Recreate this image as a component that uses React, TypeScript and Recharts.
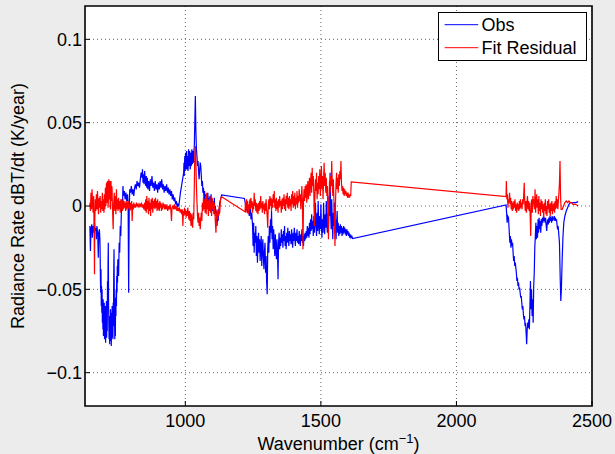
import React from "react";
import { LineChart, Line, XAxis, YAxis, CartesianGrid, ReferenceArea, Legend } from "recharts";

const FONT = "'Liberation Sans', Arial, Helvetica, sans-serif";

const seriesNames = ["Obs", "Fit Residual"];
const xTicks = [1000, 1500, 2000, 2500];
const yTicks = [-0.1, -0.05, 0, 0.05, 0.1];
const xDomain: [number, number] = [630, 2500];
const yDomain: [number, number] = [-0.12, 0.12];

// Obs: [wavenumber, dBT/dt]
const obsBand1: [number, number][] = [
  [648,-0.012],[650,-0.027],[652,-0.014],[655,-0.011],[657,-0.019],[660,-0.012],[662,-0.016],[665,-0.010],
  [667,-0.015],[670,-0.013],[672,-0.020],[674,-0.012],[677,-0.017],[679,-0.031],[681,-0.016],[683,-0.014],
  [685,-0.020],[686,-0.030],[687,-0.045],[688,-0.052],[689,-0.038],[690,-0.060],[691,-0.048],[692,-0.064],
  [693,-0.050],[694,-0.070],[695,-0.058],[696,-0.074],[697,-0.056],[698,-0.078],[699,-0.062],[700,-0.072],
  [701,-0.058],[702,-0.080],[703,-0.064],[704,-0.076],[705,-0.060],[706,-0.082],[707,-0.066],[708,-0.074],
  [709,-0.057],[710,-0.079],[711,-0.063],[712,-0.075],[713,-0.045],[714,-0.062],[715,-0.035],[716,-0.022],
  [717,-0.060],[718,-0.072],[719,-0.080],[720,-0.066],[721,-0.083],[722,-0.068],[723,-0.078],[724,-0.062],
  [725,-0.081],[726,-0.064],[727,-0.084],[728,-0.070],[729,-0.079],[730,-0.060],[731,-0.076],[732,-0.066],
  [733,-0.080],[734,-0.058],[735,-0.072],[736,-0.040],[737,-0.026],[738,-0.050],[739,-0.068],[740,-0.080],
  [741,-0.062],[742,-0.078],[743,-0.055],[744,-0.066],[745,-0.050],[746,-0.060],[747,-0.042],[748,-0.052],
  [749,-0.036],[750,-0.046],[751,-0.032],[752,-0.040],[754,-0.042],[756,-0.022],[758,-0.028],[760,-0.012],
  [762,-0.018],[764,-0.004],[766,0.004],[768,-0.002],[770,0.012],[772,0.006],[775,0.009],[778,0.004],
  [781,0.008],[784,0.003],[787,0.007],[789,0.002],[791,-0.052],[793,-0.005],[795,0.010],[798,0.008],
  [801,0.012],[804,0.007],[807,0.010],[810,0.006],[813,0.011],[816,0.013],[819,0.010],[822,0.015],
  [825,0.012],[828,0.014],[831,0.011],[834,0.016],[837,0.020],[840,0.017],[842,0.022],[844,0.014],
  [846,0.019],[848,0.013],[850,0.021],[852,0.016],[854,0.012],[856,0.018],[858,0.011],[860,0.017],
  [862,0.010],[865,0.015],[868,0.009],[871,0.016],[874,0.012],[877,0.018],[880,0.011],[883,0.014],
  [886,0.009],[889,0.015],[892,0.010],[895,0.013],[898,0.008],[901,0.014],[904,0.010],[907,0.015],
  [910,0.011],[913,0.016],[916,0.010],[919,0.013],[922,0.008],[925,0.012],[928,0.009],[931,0.013],
  [934,0.008],[937,0.011],[940,0.007],[943,0.010],[946,0.006],[949,0.009],[952,0.004],[955,0.007],
  [958,0.003],[961,0.005],[964,0.001],[967,0.003],[970,-0.001],[973,0.001],[976,0.000],[979,0.004],
  [982,0.008],[985,0.011],[988,0.014],[991,0.017],[994,0.020],[995,0.026],[996,0.018],[997,0.024],
  [998,0.030],[999,0.021],[1000,0.027],[1001,0.032],[1002,0.022],[1003,0.024],[1004,0.031],[1005,0.033],
  [1006,0.023],[1007,0.022],[1008,0.030],[1009,0.029],[1010,0.021],[1011,0.025],[1012,0.034],[1013,0.030],
  [1014,0.024],[1015,0.027],[1016,0.033],[1017,0.031],[1018,0.022],[1019,0.023],[1020,0.032],[1021,0.030],
  [1022,0.024],[1023,0.026],[1024,0.034],[1025,0.033],[1026,0.025],[1027,0.028],[1028,0.033],[1029,0.031],
  [1030,0.026],[1031,0.027],[1032,0.034],[1033,0.035],[1034,0.042],[1035,0.050],[1037,0.066],[1039,0.045],
  [1041,0.034],[1043,0.030],[1045,0.024],[1047,0.027],[1049,0.020],[1051,0.016],[1053,0.022],[1055,0.026],
  [1057,0.024],[1059,0.018],[1061,0.012],[1063,0.015],[1065,0.008],[1067,0.011],[1069,0.004],[1071,0.009],
  [1073,0.002],[1075,0.007],[1077,0.000],[1079,0.006],[1081,0.002],[1083,0.008],[1085,0.001],[1087,0.005],
  [1089,-0.001],[1091,0.006],[1093,0.002],[1095,0.007],[1097,-0.002],[1099,0.004],[1101,-0.003],[1103,0.003],
  [1105,-0.001],[1107,0.005],[1109,-0.004],[1111,0.000],[1113,-0.006],[1115,-0.003],[1117,-0.012],[1119,-0.006],
  [1121,-0.009],[1123,-0.002],[1125,-0.005],[1127,0.002],[1130,0.004],[1134,0.0066],
];

const obsBand2: [number, number][] = [
  [1218,0.0045],[1221,0.002],[1224,-0.003],[1227,0.001],[1230,-0.004],[1233,0.000],[1236,-0.006],[1239,0.003],
  [1242,-0.008],[1245,-0.004],[1248,-0.012],[1250,-0.024],[1252,-0.010],[1254,-0.028],[1256,-0.016],[1258,-0.022],
  [1260,-0.012],[1262,-0.030],[1264,-0.018],[1266,-0.034],[1268,-0.022],[1270,-0.016],[1272,-0.028],[1274,-0.020],
  [1276,-0.033],[1278,-0.024],[1280,-0.018],[1282,-0.036],[1284,-0.026],[1286,-0.020],[1288,-0.031],[1290,-0.038],
  [1292,-0.027],[1294,-0.022],[1296,-0.040],[1298,-0.030],[1300,-0.046],[1302,-0.053],[1304,-0.026],[1306,-0.018],
  [1308,-0.028],[1310,-0.012],[1312,-0.022],[1314,-0.008],[1316,-0.016],[1318,-0.003],[1320,-0.020],[1322,-0.012],
  [1324,-0.026],[1326,-0.014],[1328,-0.022],[1330,-0.030],[1332,-0.017],[1334,-0.026],[1336,-0.032],[1338,-0.020],
  [1340,-0.028],[1342,-0.044],[1344,-0.022],[1346,-0.016],[1348,-0.026],[1350,-0.019],[1352,-0.024],[1354,-0.014],
  [1356,-0.022],[1358,-0.017],[1360,-0.025],[1362,-0.015],[1364,-0.021],[1366,-0.012],[1368,-0.024],[1370,-0.018],
  [1372,-0.026],[1374,-0.016],[1376,-0.022],[1378,-0.013],[1380,-0.020],[1382,-0.024],[1384,-0.015],[1386,-0.021],
  [1388,-0.017],[1390,-0.023],[1392,-0.014],[1394,-0.020],[1396,-0.025],[1398,-0.016],[1400,-0.021],[1402,-0.013],
  [1404,-0.019],[1406,-0.024],[1408,-0.016],[1410,-0.021],[1412,-0.014],[1414,-0.022],[1416,-0.018],[1418,-0.023],
  [1420,-0.015],[1422,-0.020],[1424,-0.024],[1426,-0.017],[1428,-0.021],[1430,-0.014],[1432,-0.022],[1434,-0.018],
  [1436,-0.024],[1438,-0.017],[1440,-0.021],[1442,-0.016],[1444,-0.020],[1446,-0.015],[1448,-0.019],[1450,-0.012],
  [1452,-0.018],[1454,-0.013],[1456,-0.019],[1458,-0.010],[1460,-0.017],[1462,-0.008],[1464,-0.015],[1466,-0.005],
  [1468,-0.014],[1470,-0.009],[1472,-0.018],[1474,-0.006],[1476,-0.016],[1478,-0.010],[1480,0.002],[1482,-0.012],
  [1484,-0.018],[1486,-0.004],[1488,-0.015],[1490,0.003],[1492,-0.010],[1494,-0.017],[1496,-0.006],[1498,-0.014],
  [1500,0.001],[1502,-0.012],[1504,-0.019],[1506,-0.008],[1508,-0.016],[1510,0.002],[1512,-0.010],[1514,-0.017],
  [1516,-0.005],[1518,-0.013],[1520,0.003],[1522,-0.011],[1524,-0.016],[1526,-0.004],[1528,-0.012],[1530,0.006],
  [1532,-0.006],[1534,0.020],[1536,-0.004],[1538,-0.014],[1540,0.004],[1542,-0.010],[1544,-0.020],[1546,-0.004],
  [1548,-0.012],[1550,0.002],[1552,-0.016],[1554,-0.008],[1556,-0.020],[1558,-0.010],[1560,-0.003],[1562,-0.016],
  [1564,-0.010],[1566,-0.018],[1568,-0.012],[1570,-0.017],[1572,-0.011],[1574,-0.016],[1576,-0.012],[1578,-0.018],
  [1580,-0.013],[1582,-0.017],[1584,-0.012],[1586,-0.016],[1588,-0.013],[1590,-0.017],[1592,-0.014],[1594,-0.018],
  [1596,-0.014],[1598,-0.017],[1600,-0.015],[1602,-0.018],[1604,-0.016],[1606,-0.019],[1608,-0.017],[1611,-0.019],
  [1614,-0.018],[1617,-0.0195],
];

const obsBand3: [number, number][] = [
  [2183,0.0006],[2185,-0.004],[2187,-0.010],[2189,-0.006],[2192,-0.007],[2195,-0.016],[2197,-0.022],[2199,-0.018],
  [2201,-0.025],[2203,-0.020],[2205,-0.024],[2207,-0.022],[2209,-0.028],[2211,-0.033],[2213,-0.030],[2215,-0.036],
  [2217,-0.034],[2219,-0.037],[2221,-0.040],[2223,-0.045],[2225,-0.043],[2227,-0.048],[2229,-0.046],[2231,-0.050],
  [2233,-0.049],[2235,-0.052],[2237,-0.055],[2239,-0.054],[2241,-0.058],[2243,-0.062],[2245,-0.060],[2247,-0.065],
  [2249,-0.068],[2251,-0.066],[2253,-0.072],[2255,-0.070],[2257,-0.076],[2259,-0.083],[2261,-0.074],[2263,-0.070],
  [2265,-0.073],[2267,-0.068],[2269,-0.074],[2271,-0.060],[2273,-0.045],[2275,-0.062],[2277,-0.050],[2279,-0.066],
  [2281,-0.056],[2283,-0.070],[2285,-0.048],[2287,-0.040],[2289,-0.025],[2291,-0.018],[2293,-0.010],[2295,-0.020],
  [2297,-0.012],[2299,-0.019],[2301,-0.008],[2303,-0.016],[2305,-0.007],[2307,-0.014],[2309,-0.009],[2311,-0.016],
  [2313,-0.008],[2315,-0.012],[2317,-0.007],[2319,-0.010],[2321,-0.006],[2323,-0.009],[2325,-0.007],[2327,-0.010],
  [2329,-0.007],[2331,-0.012],[2333,-0.015],[2335,-0.010],[2337,-0.008],[2339,-0.011],[2341,-0.007],[2343,-0.010],
  [2345,-0.006],[2347,-0.009],[2349,-0.007],[2351,-0.010],[2353,-0.006],[2355,-0.009],[2357,-0.007],[2359,-0.008],
  [2361,-0.006],[2363,-0.009],[2365,-0.007],[2367,-0.009],[2369,-0.008],[2371,-0.011],[2373,-0.014],[2375,-0.012],
  [2377,-0.016],[2380,-0.022],[2383,-0.045],[2385,-0.057],[2387,-0.050],[2390,-0.032],[2393,-0.018],[2396,-0.010],
  [2400,-0.006],[2405,-0.003],[2410,-0.001],[2415,0.001],[2420,0.002],[2430,0.002],[2440,0.002],[2449,0.0026],
];

// Fit Residual: [wavenumber, dBT/dt]
const resBand1: [number, number][] = [
  [648,0.002],[650,-0.003],[652,0.008],[654,-0.002],[656,0.010],[658,0.001],[660,-0.004],[662,0.006],
  [664,-0.020],[665,-0.041],[666,-0.010],[668,0.004],[670,-0.003],[672,0.007],[674,-0.002],[676,0.009],
  [678,0.000],[680,-0.005],[682,0.005],[684,-0.001],[686,0.006],[688,-0.004],[690,0.003],[692,-0.002],
  [694,0.008],[696,-0.003],[698,0.004],[700,-0.004],[701,0.006],[702,0.007],[703,-0.002],[704,0.001],
  [705,0.010],[706,0.011],[707,0.000],[708,0.003],[709,0.013],[710,0.014],[711,0.002],[712,0.005],
  [713,0.015],[714,0.012],[715,-0.001],[716,0.002],[717,0.012],[718,0.016],[719,0.004],[720,0.006],
  [721,0.015],[722,0.013],[723,0.001],[724,-0.002],[725,0.011],[726,0.015],[727,0.003],[728,0.004],
  [729,0.012],[730,0.009],[731,0.000],[732,-0.004],[733,-0.010],[734,-0.014],[735,-0.002],[736,0.002],
  [738,0.008],[740,-0.003],[742,0.006],[744,-0.005],[746,0.010],[748,-0.002],[750,0.004],[752,-0.003],
  [754,0.005],[756,-0.002],[758,0.003],[760,-0.004],[762,0.004],[764,-0.002],[766,0.003],[768,-0.003],
  [770,0.004],[772,-0.002],[774,0.003],[776,-0.001],[778,0.002],[780,-0.003],[782,0.003],[784,-0.002],
  [786,0.002],[788,-0.001],[790,0.003],[792,-0.002],[794,0.001],[796,-0.003],[798,0.002],[800,-0.002],
  [802,0.003],[804,-0.009],[806,0.001],[808,-0.002],[810,0.002],[812,-0.001],[814,0.001],[817,-0.001],
  [820,0.002],[823,0.000],[826,0.001],[829,-0.001],[832,0.001],[835,0.000],[838,0.002],[841,-0.001],
  [844,0.001],[847,-0.002],[850,0.002],[852,-0.003],[854,0.004],[856,-0.004],[858,0.006],[860,-0.002],
  [862,0.003],[864,-0.005],[866,0.005],[868,-0.003],[870,0.002],[872,-0.006],[874,0.004],[876,-0.002],
  [878,0.005],[880,-0.004],[882,0.003],[884,-0.001],[886,0.004],[888,-0.002],[890,0.005],[892,-0.001],
  [894,0.003],[896,-0.003],[898,0.004],[900,-0.002],[902,0.002],[904,-0.003],[906,0.003],[908,-0.001],
  [910,0.002],[912,-0.003],[914,0.001],[916,-0.002],[918,0.002],[920,-0.001],[922,0.001],[924,-0.002],
  [926,0.001],[929,-0.002],[932,0.001],[935,-0.003],[938,0.000],[941,-0.002],[944,0.001],[947,-0.003],
  [949,-0.009],[951,-0.001],[954,0.000],[957,-0.002],[960,0.001],[963,-0.002],[966,0.000],[969,-0.003],
  [972,-0.001],[975,-0.003],[978,-0.001],[981,-0.004],[984,-0.002],[987,-0.005],[989,-0.002],[991,-0.012],
  [993,-0.003],[995,-0.006],[997,-0.001],[999,-0.005],[1001,-0.002],[1003,-0.007],[1005,-0.003],[1007,-0.006],
  [1009,-0.001],[1011,-0.004],[1013,-0.008],[1015,-0.003],[1017,-0.009],[1019,-0.004],[1021,-0.012],[1023,-0.005],
  [1025,-0.010],[1027,-0.013],[1029,-0.004],[1031,-0.008],[1033,0.010],[1035,0.030],[1037,0.036],[1039,0.026],
  [1041,0.012],[1043,0.002],[1045,-0.006],[1047,-0.010],[1049,-0.004],[1051,-0.012],[1053,-0.007],[1055,-0.014],
  [1057,-0.008],[1059,-0.004],[1061,-0.009],[1063,0.002],[1065,-0.003],[1067,0.005],[1069,-0.002],[1071,0.004],
  [1073,-0.004],[1075,0.006],[1077,-0.005],[1079,0.008],[1081,-0.002],[1083,0.003],[1085,-0.006],[1087,0.004],
  [1089,-0.003],[1091,0.006],[1093,-0.004],[1095,0.002],[1097,-0.006],[1099,0.005],[1101,-0.002],[1103,0.003],
  [1105,-0.005],[1107,0.002],[1109,-0.004],[1111,-0.010],[1113,-0.016],[1115,-0.006],[1117,-0.002],[1119,-0.008],
  [1121,-0.003],[1123,-0.006],[1125,0.000],[1127,-0.004],[1129,0.002],[1131,0.005],[1134,0.0055],
];

const resBand2: [number, number][] = [
  [1220,-0.0034],[1222,0.002],[1224,-0.004],[1226,0.004],[1228,-0.002],[1230,0.003],[1232,-0.005],[1234,0.001],
  [1236,-0.003],[1238,0.004],[1240,-0.002],[1242,0.005],[1244,-0.001],[1246,0.003],[1248,-0.004],[1250,0.002],
  [1252,-0.002],[1254,0.008],[1256,0.000],[1258,0.004],[1260,-0.003],[1262,0.002],[1264,-0.004],[1266,0.001],
  [1268,-0.005],[1270,0.002],[1272,-0.003],[1274,0.003],[1276,-0.002],[1278,0.006],[1280,-0.001],[1282,0.002],
  [1284,-0.004],[1286,0.003],[1288,-0.002],[1290,0.001],[1292,-0.005],[1294,0.002],[1296,-0.003],[1298,0.004],
  [1300,-0.002],[1302,-0.006],[1304,-0.013],[1306,0.000],[1308,0.004],[1310,-0.002],[1312,0.006],[1314,0.000],
  [1316,0.005],[1318,-0.003],[1320,0.004],[1322,-0.001],[1324,0.007],[1326,0.002],[1328,0.009],[1330,-0.001],
  [1332,0.004],[1334,-0.003],[1336,0.005],[1338,-0.002],[1340,0.003],[1342,-0.004],[1344,0.004],[1346,-0.001],
  [1348,0.006],[1350,0.000],[1352,0.003],[1354,-0.004],[1356,0.004],[1358,-0.002],[1360,0.005],[1362,0.000],
  [1364,0.007],[1366,-0.002],[1368,0.004],[1370,-0.003],[1372,0.006],[1374,0.001],[1376,0.008],[1378,-0.001],
  [1380,0.005],[1382,-0.002],[1384,0.006],[1386,0.000],[1388,0.004],[1390,-0.003],[1392,0.007],[1394,0.001],
  [1396,0.009],[1398,-0.001],[1400,0.006],[1402,0.000],[1404,0.008],[1406,-0.002],[1408,0.005],[1410,0.001],
  [1412,0.009],[1414,-0.001],[1416,0.006],[1418,0.002],[1420,0.010],[1422,0.003],[1424,0.007],[1426,-0.002],
  [1428,0.005],[1430,0.012],[1432,0.001],[1434,-0.026],[1436,0.004],[1438,0.010],[1440,0.003],[1442,0.012],
  [1444,0.005],[1446,0.013],[1448,0.002],[1450,0.009],[1452,0.015],[1454,0.004],[1456,0.011],[1458,0.017],
  [1460,0.006],[1462,0.014],[1464,0.020],[1466,0.008],[1468,0.023],[1470,0.012],[1472,0.018],[1474,0.008],
  [1476,-0.012],[1478,0.006],[1480,0.016],[1482,0.009],[1484,0.020],[1486,0.004],[1488,0.014],[1490,0.007],
  [1492,0.018],[1494,0.010],[1496,0.022],[1498,0.006],[1500,0.015],[1502,0.024],[1504,0.010],[1506,0.018],
  [1508,0.004],[1510,0.016],[1512,0.026],[1514,0.012],[1516,0.020],[1518,0.008],[1520,0.017],[1522,0.006],
  [1524,0.012],[1526,-0.008],[1528,-0.020],[1530,0.004],[1532,0.015],[1534,0.008],[1536,0.018],[1538,0.012],
  [1540,0.027],[1542,0.014],[1544,0.006],[1546,0.016],[1548,0.004],[1550,-0.010],[1552,-0.024],[1554,0.002],
  [1556,0.014],[1558,0.020],[1560,0.010],[1562,0.017],[1564,0.008],[1566,0.019],[1568,0.012],[1570,0.021],
  [1572,0.016],[1574,0.027],[1576,0.014],[1578,0.009],[1580,0.012],[1582,0.007],[1584,0.011],[1586,0.006],
  [1588,0.010],[1590,0.007],[1592,0.009],[1594,0.006],[1596,0.008],[1598,0.005],[1600,0.008],[1602,0.005],
  [1604,0.007],[1606,0.005],[1608,0.007],[1610,0.006],[1612,0.0144],
];

const resBand3: [number, number][] = [
  [2183,0.0056],[2184,0.015],[2186,0.004],[2188,0.007],[2190,-0.001],[2192,0.004],[2194,0.002],[2196,0.008],
  [2198,0.001],[2200,0.005],[2202,-0.002],[2204,0.003],[2206,-0.003],[2208,0.002],[2210,-0.002],[2212,0.003],
  [2214,-0.001],[2216,0.004],[2218,-0.003],[2220,0.001],[2222,-0.004],[2224,0.002],[2226,-0.002],[2228,0.001],
  [2230,-0.003],[2232,0.003],[2234,-0.002],[2236,0.004],[2238,-0.001],[2240,0.002],[2242,-0.002],[2244,0.004],
  [2246,0.001],[2248,0.006],[2250,0.014],[2252,0.002],[2254,-0.003],[2256,0.003],[2258,-0.004],[2260,0.002],
  [2262,0.006],[2264,-0.002],[2266,0.003],[2268,-0.003],[2270,0.002],[2272,-0.006],[2274,-0.018],[2276,0.002],
  [2278,0.004],[2280,-0.004],[2282,0.006],[2284,0.001],[2286,0.004],[2288,-0.002],[2290,0.010],[2292,-0.004],
  [2294,0.003],[2296,0.007],[2298,-0.001],[2300,0.004],[2302,-0.005],[2304,0.006],[2306,-0.003],[2308,0.002],
  [2310,-0.006],[2312,0.004],[2314,-0.002],[2316,0.003],[2318,-0.004],[2320,0.001],[2322,-0.007],[2324,0.002],
  [2326,-0.003],[2328,0.004],[2330,-0.005],[2332,0.000],[2334,-0.006],[2336,0.003],[2338,-0.002],[2340,0.004],
  [2342,-0.004],[2344,0.001],[2346,-0.006],[2348,0.002],[2350,-0.003],[2352,0.003],[2354,-0.005],[2356,0.001],
  [2358,-0.003],[2360,0.002],[2362,-0.004],[2364,0.003],[2366,-0.002],[2368,0.006],[2370,-0.001],[2372,0.004],
  [2374,-0.002],[2376,0.003],[2378,0.008],[2380,0.014],[2382,0.027],[2384,0.006],[2386,-0.002],[2390,-0.002],
  [2395,0.000],[2400,0.002],[2405,0.003],[2410,0.002],[2415,0.003],[2420,0.002],[2425,0.002],[2430,0.001],
  [2440,0.001],[2449,0.000],
];

const toPoints = (bands: [number, number][][]) =>
  bands.flat().map(([x, y]) => ({ x, y }));

const obsData = toPoints([obsBand1, obsBand2, obsBand3]);
const resData = toPoints([resBand1, resBand2, resBand3]);

const fmtY = (v: number) => (v === 0 ? "0" : (v < 0 ? "\u2212" : "") + String(Math.abs(v)));

const BottomTick = (props: any) => {
  const { x, y, payload } = props;
  return (
    <g>
      <line x1={x} y1={y} x2={x} y2={y - 5} stroke="#000" strokeWidth={1} />
      <text x={x} y={y + 21} textAnchor="middle" fontSize={18} fontFamily={FONT} fill="#000">
        {payload.value}
      </text>
    </g>
  );
};

const TopTick = (props: any) => {
  const { x, y } = props;
  return <line x1={x} y1={y} x2={x} y2={y + 5} stroke="#000" strokeWidth={1} />;
};

const LeftTick = (props: any) => {
  const { x, y, payload } = props;
  return (
    <g>
      <line x1={x} y1={y} x2={x + 5} y2={y} stroke="#000" strokeWidth={1} />
      <text x={x - 3} y={y} dy="0.35em" textAnchor="end" fontSize={18} fontFamily={FONT} fill="#000">
        {fmtY(payload.value)}
      </text>
    </g>
  );
};

const RightTick = (props: any) => {
  const { x, y } = props;
  return <line x1={x} y1={y} x2={x - 5} y2={y} stroke="#000" strokeWidth={1} />;
};

const XLabel = (props: any) => {
  const vb = props.viewBox || {};
  return (
    <text x={vb.x + vb.width / 2} y={vb.y + 44} textAnchor="middle" fontSize={18} fontFamily={FONT} fill="#000">
      <tspan>Wavenumber (cm</tspan>
      <tspan dy={-7} fontSize={13}>{"\u22121"}</tspan>
      <tspan dy={7}>)</tspan>
    </text>
  );
};

const YLabel = (props: any) => {
  const vb = props.viewBox || {};
  const cx = vb.x + 18;
  const cy = vb.y + vb.height / 2;
  return (
    <text
      x={cx}
      y={cy}
      dy="0.35em"
      textAnchor="middle"
      fontSize={18}
      fontFamily={FONT}
      fill="#000"
      transform={`rotate(-90 ${cx} ${cy})`}
    >
      Radiance Rate dBT/dt (K/year)
    </text>
  );
};

const renderLegend = (props: any) => {
  const payload = [...(props.payload || [])].sort(
    (a: any, b: any) => seriesNames.indexOf(a.value) - seriesNames.indexOf(b.value)
  );
  return (
    <svg width={149} height={49} style={{ display: "block" }}>
      <rect x={0.5} y={0.5} width={148} height={48} fill="#fff" stroke="#000" strokeWidth={1} />
      {payload.map((p: any, i: number) => {
        const ly = 12.7 + i * 23;
        return (
          <g key={i}>
            <line x1={6.6} y1={ly} x2={40.2} y2={ly} stroke={p.color} strokeWidth={1} />
            <text x={43.5} y={ly + 6.6} fontSize={18} fontFamily={FONT} fill="#000">
              {p.value}
            </text>
          </g>
        );
      })}
    </svg>
  );
};

export default function App() {
  return (
    <div style={{ position: "absolute", left: 0, top: 0, width: 615, height: 454, background: "#ececec" }}>
      <LineChart width={615} height={454} margin={{ top: 6, right: 23, bottom: 0, left: 0 }}>
        <CartesianGrid
          fill="#fff"
          stroke="#666"
          strokeDasharray="1 3"
          horizontalValues={yTicks}
          verticalValues={xTicks}
        />
        <XAxis
          dataKey="x"
          type="number"
          domain={xDomain}
          ticks={xTicks}
          interval={0}
          allowDataOverflow
          height={48}
          axisLine={false}
          tickLine={false}
          tickSize={0}
          tickMargin={0}
          tick={BottomTick}
          label={XLabel}
        />
        <XAxis
          xAxisId="top"
          orientation="top"
          dataKey="x"
          type="number"
          domain={xDomain}
          ticks={xTicks}
          interval={0}
          allowDataOverflow
          height={0}
          axisLine={false}
          tickLine={false}
          tickSize={0}
          tickMargin={0}
          tick={TopTick}
        />
        <YAxis
          type="number"
          domain={yDomain}
          ticks={yTicks}
          interval={0}
          allowDataOverflow
          width={85}
          axisLine={false}
          tickLine={false}
          tickSize={0}
          tickMargin={0}
          tick={LeftTick}
          label={YLabel}
        />
        <YAxis
          yAxisId="right"
          orientation="right"
          type="number"
          domain={yDomain}
          ticks={yTicks}
          interval={0}
          allowDataOverflow
          width={0}
          axisLine={false}
          tickLine={false}
          tickSize={0}
          tickMargin={0}
          tick={RightTick}
        />
        <Line
          data={obsData}
          dataKey="y"
          name="Obs"
          type="linear"
          stroke="#0000ff"
          strokeWidth={1.2}
          dot={false}
          activeDot={false}
          isAnimationActive={false}
        />
        <Line
          data={resData}
          dataKey="y"
          name="Fit Residual"
          type="linear"
          stroke="#ff0000"
          strokeWidth={1.2}
          dot={false}
          activeDot={false}
          isAnimationActive={false}
        />
        <ReferenceArea
          x1={xDomain[0]}
          x2={xDomain[1]}
          y1={yDomain[0]}
          y2={yDomain[1]}
          fill="none"
          fillOpacity={0}
          stroke="#000"
          strokeWidth={1.6}
          ifOverflow="visible"
        />
        <Legend
          layout="vertical"
          align="center"
          verticalAlign="middle"
          content={renderLegend}
          wrapperStyle={{ left: 438, top: 12, width: 149, height: 49 }}
        />
      </LineChart>
    </div>
  );
}
